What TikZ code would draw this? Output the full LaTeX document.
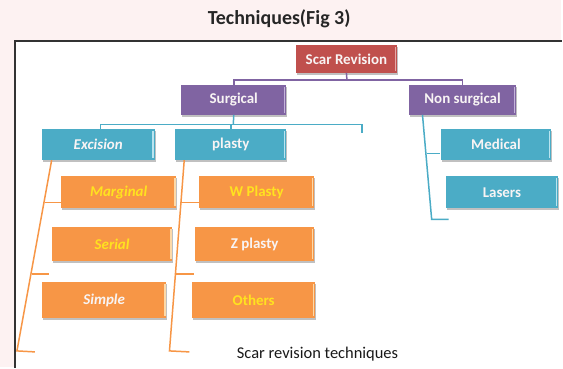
\documentclass[tikz,border=0pt]{standalone}
\usepackage{fontspec}
\setmainfont{Carlito}
\usetikzlibrary{shadows}

\definecolor{pagepink}{HTML}{FDF2F2}
\definecolor{framegray}{HTML}{333333}
\definecolor{srred}{HTML}{C0504D}
\definecolor{srredlt}{HTML}{E6A8A6}
\definecolor{sgpurple}{HTML}{8064A2}
\definecolor{sgpurplelt}{HTML}{C4B3DA}
\definecolor{tealbox}{HTML}{4BACC6}
\definecolor{teallt}{HTML}{B9E4F0}
\definecolor{orangebox}{HTML}{F79646}
\definecolor{orangelt}{HTML}{FDD9A8}
\definecolor{txtwhite}{HTML}{F8F4F4}
\definecolor{txtyellow}{HTML}{FFE21F}

\tikzset{
  boxfont/.style={font=\fontsize{15}{18}\selectfont\bfseries},
  boxfontit/.style={font=\fontsize{15}{18}\selectfont\bfseries\itshape},
  tbox/.style 2 args={
    draw=none, fill=#1, inner sep=0pt, boxfont,
    drop shadow={shadow xshift=1pt, shadow yshift=-2pt, opacity=0.35, fill=black!70},
    path picture={
      \draw[#2, line width=1.3pt]
        ([xshift=-1.6pt,yshift=-2pt]path picture bounding box.north east) --
        ([xshift=-1.6pt,yshift=2pt]path picture bounding box.south east);
    }},
  redbox/.style={tbox={srred}{srredlt}, text=txtwhite},
  purplebox/.style={tbox={sgpurple}{sgpurplelt}, text=txtwhite},
  tealbx/.style={tbox={tealbox}{teallt}, text=txtwhite},
  orangebx/.style={tbox={orangebox}{orangelt}},
  purpleline/.style={draw=sgpurple, line width=1.5pt},
  tealline/.style={draw=tealbox, line width=1.5pt},
  orangeline/.style={draw=orangebox, line width=1.5pt},
}

\begin{document}
\begin{tikzpicture}[x=1pt, y=-1pt]
  % page and frame
  \fill[pagepink] (0,0) rectangle (563,368);
  \fill[white] (15,41) rectangle (563,368);
  \draw[framegray, line width=1.5pt] (15,369) -- (15,41) -- (564,41);
  \useasboundingbox (0,0) rectangle (563,368);

  % headings
  \node[font=\fontsize{20}{24}\selectfont\bfseries, text=black!85] (title) at (280,19) {Techniques(Fig 3)};
  \node[font=\fontsize{16.5}{20}\selectfont, text=black!90] (caption) at (318.5,355) {Scar revision techniques};

  % boxes
  \node[redbox, minimum width=101pt, minimum height=28pt] (sr) at (347.5,59) {Scar Revision};
  \node[purplebox, minimum width=105pt, minimum height=30pt] (sg) at (234.5,100) {Surgical};
  \node[purplebox, minimum width=108pt, minimum height=30pt] (ns) at (464,100) {Non surgical};

  \node[tealbx, minimum width=113pt, minimum height=31pt, boxfontit] (ex) at (98.5,145) {Excision};
  \node[tealbx, minimum width=111pt, minimum height=31pt] (pl) at (231.5,145) {plasty};
  \node[tealbx, minimum width=111pt, minimum height=31pt] (md) at (497.5,145) {Medical};
  \node[tealbx, minimum width=113pt, minimum height=32pt] (ls) at (503.5,193) {Lasers};

  \node[orangebx, minimum width=116pt, minimum height=32pt, text=txtyellow, boxfontit] (mg) at (119,193) {Marginal};
  \node[orangebx, minimum width=121pt, minimum height=34pt, text=txtyellow, boxfontit] (se) at (112.5,245) {Serial};
  \node[orangebx, minimum width=125pt, minimum height=36pt, text=txtwhite, boxfontit] (si) at (104.5,301) {Simple};

  \node[orangebx, minimum width=115pt, minimum height=32pt, text=txtyellow] (wp) at (257.5,193) {W Plasty};
  \node[orangebx, minimum width=119pt, minimum height=34pt, text=txtwhite] (zp) at (255.5,245) {Z plasty};
  \node[orangebx, minimum width=123pt, minimum height=36pt, text=txtyellow] (ot) at (254.5,301) {Others};

  % top level connectors
  \coordinate (pj) at (348,80);
  \draw[purpleline] (sr.south) -- (pj);
  \draw[purpleline] (sg.north) |- (pj) -| (ns.north);

  % surgical branch
  \coordinate (tj) at (234,125);
  \coordinate (tk) at (363,133);
  \draw[tealline] (sg.south) -- (tj);
  \draw[tealline] ([xshift=2.5pt]ex.north) |- (tj) -| (tk);
  \draw[tealline] (pl.north) -- (pl.north |- tj);

  % non surgical branch
  \coordinate (nsTop) at ([xshift=14pt]ns.south west);
  \coordinate (nsBot) at (433,220);
  \coordinate (nsFoot) at (450,220);
  \coordinate (nsMid) at (428.5,154);
  \draw[tealline] (nsTop) -- (nsBot) -- (nsFoot);
  \draw[tealline] (nsMid) -- (md.west |- nsMid);

  % excision column
  \coordinate (exTop) at ([xshift=10pt]ex.south west);
  \coordinate (exBot) at (17,352);
  \coordinate (exFoot) at (35,353);
  \coordinate (exB1) at (45,203);
  \coordinate (exB2) at (32,275);
  \coordinate (exB2end) at (49,275);
  \draw[orangeline] (exTop) -- (exBot) -- (exFoot);
  \draw[orangeline] (exB1) -- (mg.west |- exB1);
  \draw[orangeline] (exB2) -- (exB2end);

  % plasty column
  \coordinate (plTop) at ([xshift=9pt]pl.south west);
  \coordinate (plBot) at (170,352);
  \coordinate (plFoot) at (190,353);
  \coordinate (plB1) at (182,203);
  \coordinate (plB2) at (176,275);
  \coordinate (plB2end) at (195,275);
  \draw[orangeline] (plTop) -- (plBot) -- (plFoot);
  \draw[orangeline] (plB1) -- (wp.west |- plB1);
  \draw[orangeline] (plB2) -- (plB2end);
\end{tikzpicture}
\end{document}
